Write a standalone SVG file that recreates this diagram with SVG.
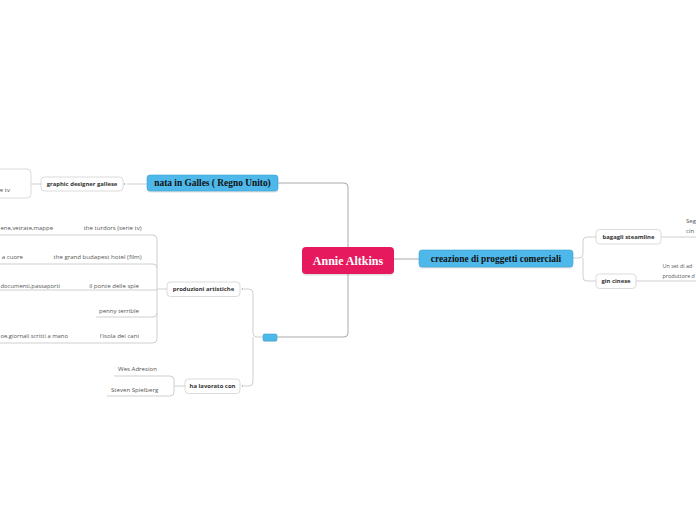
<svg xmlns="http://www.w3.org/2000/svg" width="696" height="520" viewBox="0 0 696 520">
<style>
.bg{fill:#ffffff}
.c1{fill:none;stroke:#a9a9a9;stroke-width:1}
.c2{fill:none;stroke:#cfcfcf;stroke-width:1}
.box{fill:#ffffff;stroke:#d2d2d2;stroke-width:0.8}
.blue{fill:#4db8e9;stroke:#3aa3d4;stroke-width:0.6}
.shadow{fill:#000000;opacity:0.12}
.root{fill:#e6195e}
.rt{font-family:"Liberation Serif",serif;font-weight:bold;font-size:12px;fill:#ffffff}
.bt{font-family:"Liberation Serif",serif;font-weight:bold;font-size:9.4px;fill:#111111}
.nb{font-family:"Open Sans","Liberation Sans",sans-serif;font-weight:bold;font-size:5.9px;fill:#333333}
.tx{font-family:"Open Sans","Liberation Sans",sans-serif;font-size:6.1px;fill:#555555}
.sm{font-size:5.4px}
.dot{fill:#9a9a9a}
</style>
<rect class="bg" x="0" y="0" width="696" height="520"/>
<g id="connectors">
<path class="c1" d="M394,259 H419"/>
<path class="c1" d="M348,247 V187 Q348,183 344,183 H278"/>
<path class="c1" d="M348,274 V333 Q348,337 344,337 H277"/>
<path class="c2" d="M573,258 H579 Q583,258 583,254 V241 Q583,237 587,237 H596"/>
<path class="c2" d="M583,258 V277 Q583,281 587,281 H596"/>
<path class="c2" d="M661,237 H696"/>
<path class="c2" d="M636,281 H696"/>
<path class="c2" d="M147,184 H127"/>
<path class="c2" d="M41,184 H31"/>
<path class="c2" d="M263,337 H257 Q253,337 253,333 V293 Q253,289 249,289 H244"/>
<path class="c2" d="M253,337 V382 Q253,386 249,386 H244"/>
<path class="c2" d="M167,289 H157"/>
<path class="c2" d="M157,290 V268 Q157,264 153,264 H0"/>
<path class="c2" d="M157,268 V239 Q157,235 153,235 H0"/>
<path class="c2" d="M157,290 H0"/>
<path class="c2" d="M157,290 V313 Q157,317 153,317 H96"/>
<path class="c2" d="M157,313 V339 Q157,343 153,343 H0"/>
<path class="c2" d="M185,386 H174"/>
<path class="c2" d="M174,386 V380 Q174,376 170,376 H114"/>
<path class="c2" d="M174,386 V392 Q174,396 170,396 H107"/>
<circle class="dot" cx="124.5" cy="184" r="0.8"/>
<circle class="dot" cx="242.5" cy="289" r="0.8"/>
<circle class="dot" cx="242.5" cy="386" r="0.8"/>
</g>
<g id="root">
<rect class="shadow" x="302" y="248.5" width="92" height="27" rx="4"/>
<rect class="root" x="302" y="247" width="92" height="27" rx="4"/>
<text class="rt" x="348" y="264.5" text-anchor="middle">Annie Altkins</text>
</g>
<g id="n-creazione">
<rect class="shadow" x="419" y="251.5" width="154" height="17" rx="3"/>
<rect class="blue" x="419" y="250" width="154" height="17" rx="3"/>
<text class="bt" x="496" y="261.5" text-anchor="middle">creazione di proggetti comerciali</text>
</g>
<g id="n-nata">
<rect class="shadow" x="147" y="176.5" width="131" height="16" rx="3"/>
<rect class="blue" x="147" y="175" width="131" height="16" rx="3"/>
<text class="bt" x="212.5" y="186.2" text-anchor="middle">nata in Galles ( Regno Unito)</text>
</g>
<g id="n-empty">
<rect class="shadow" x="263" y="335" width="14" height="7" rx="1.5"/>
<rect class="blue" x="263" y="334" width="14" height="7" rx="1.5"/>
</g>
<g id="n-bagagli">
<rect class="box" x="596" y="229.5" width="65" height="14.5" rx="3.5"/>
<text class="nb" x="628.5" y="238.8" text-anchor="middle">bagagli steamline</text>
</g>
<g id="n-gin">
<rect class="box" x="596" y="274" width="40" height="14.5" rx="3.5"/>
<text class="nb" x="616" y="283.3" text-anchor="middle">gin cinese</text>
</g>
<g id="t-bagagli-desc">
<text class="tx" x="686" y="223">Seg</text>
<text class="tx" x="686" y="233">cin</text>
</g>
<g id="t-gin-desc">
<text class="tx sm" x="662.5" y="268">Un set di ad</text>
<text class="tx sm" x="662.5" y="278">produttore d</text>
</g>
<g id="n-graphic">
<rect class="box" x="41" y="177" width="82" height="14" rx="3.5"/>
<text class="nb" x="82" y="186" text-anchor="middle">graphic designer gallese</text>
</g>
<g id="n-tv-box">
<rect class="box" x="-10" y="169" width="41" height="29" rx="4"/>
<text class="tx" x="10" y="192" text-anchor="end">e tv</text>
</g>
<g id="n-produzioni">
<rect class="box" x="167" y="282" width="73" height="14.5" rx="3.5"/>
<text class="nb" x="203.5" y="291.3" text-anchor="middle">produzioni artistiche</text>
</g>
<g id="n-halavorato">
<rect class="box" x="185" y="379" width="55" height="14.5" rx="3.5"/>
<text class="nb" x="212.5" y="388.3" text-anchor="middle">ha lavorato con</text>
</g>
<g id="t-turdors"><text class="tx" x="141.5" y="230" text-anchor="end">the turdors (serie tv)</text></g>
<g id="t-budapest"><text class="tx" x="141.5" y="259" text-anchor="end">the grand budapest hotel (film)</text></g>
<g id="t-ponte"><text class="tx" x="139" y="288" text-anchor="end">il ponte delle spie</text></g>
<g id="t-penny"><text class="tx" x="139" y="313" text-anchor="end">penny terrible</text></g>
<g id="t-isola"><text class="tx" x="139" y="338" text-anchor="end">l'isola dei cani</text></g>
<g id="t-mappe"><text class="tx" x="0.5" y="230" textLength="52.5" lengthAdjust="spacingAndGlyphs">ene,vetrate,mappe</text></g>
<g id="t-cuore"><text class="tx" x="23" y="259" text-anchor="end">a cuore</text></g>
<g id="t-documenti"><text class="tx" x="0.5" y="288" textLength="59.5" lengthAdjust="spacingAndGlyphs">documenti,passaporti</text></g>
<g id="t-giornali"><text class="tx" x="0.5" y="338" textLength="67.5" lengthAdjust="spacingAndGlyphs">oe,giornali scritti a mano</text></g>
<g id="t-wes"><text class="tx" x="118" y="371">Wes Adresion</text></g>
<g id="t-steven"><text class="tx" x="111" y="392">Steven Spielberg</text></g>
</svg>
